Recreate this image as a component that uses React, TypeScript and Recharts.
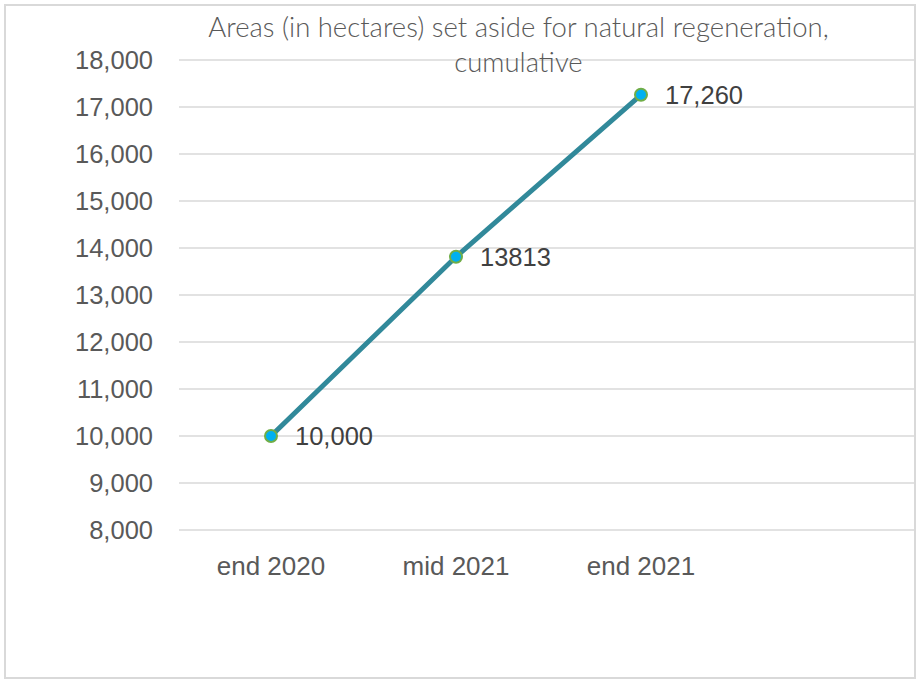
import { LineChart, Line, XAxis, YAxis, CartesianGrid } from 'recharts';

const periods = ['end 2020', 'mid 2021', 'end 2021'];
const hectares = [10000, 13813, 17260];
const valueLabels = ['10,000', '13813', '17,260'];
const yTicks = [8000, 9000, 10000, 11000, 12000, 13000, 14000, 15000, 16000, 17000, 18000];
const titleLines = ['Areas (in hectares) set aside for natural regeneration,', 'cumulative'];

const data = periods.map((period, i) => ({ period, hectares: hectares[i] }));

const AXIS_FONT = '"Liberation Sans", Arial, sans-serif';

// eslint-disable-next-line @typescript-eslint/no-explicit-any
function PointLabel(props: any) {
  const { x, y, index } = props;
  return (
    <text
      x={x + 24}
      y={y}
      dy="0.36em"
      fill="#404040"
      fontSize={25.5}
      fontFamily={AXIS_FONT}
    >
      {valueLabels[index]}
    </text>
  );
}

export default function App() {
  return (
    <div style={{ position: 'absolute', left: 0, top: 0, width: 917, height: 680, background: '#fff' }}>
      <div
        style={{
          position: 'absolute',
          left: 4,
          top: 4,
          width: 908,
          height: 671,
          border: '2px solid #d9d9d9',
        }}
      />
      <LineChart
        width={917}
        height={680}
        data={data}
        margin={{ top: 60, right: 3, bottom: 120, left: 0 }}
      >
        <CartesianGrid vertical={false} stroke="#d9d9d9" strokeWidth={1.5} />
        <XAxis
          dataKey="period"
          axisLine={false}
          tickLine={false}
          tickSize={0}
          tickMargin={27}
          padding={{ left: 92, right: 273 }}
          tick={{ fill: '#595959', fontSize: 26, fontFamily: AXIS_FONT }}
        />
        <YAxis
          width={179}
          domain={[8000, 18000]}
          ticks={yTicks}
          interval={0}
          axisLine={false}
          tickLine={false}
          tickSize={0}
          tickMargin={26}
          tickFormatter={(v: number) => v.toLocaleString('en-US')}
          tick={{ fill: '#595959', fontSize: 25.5, fontFamily: AXIS_FONT }}
        />
        <Line
          dataKey="hectares"
          stroke="#31899a"
          strokeWidth={5}
          dot={{ r: 6, fill: '#00b0f0', stroke: '#70ad47', strokeWidth: 2 }}
          label={PointLabel}
          isAnimationActive={false}
        />
      </LineChart>
      <div
        style={{
          position: 'absolute',
          left: 0,
          top: 9,
          width: 1037,
          textAlign: 'center',
          fontFamily: 'Lato, "Open Sans", sans-serif',
          fontWeight: 300,
          fontSize: 27.5,
          lineHeight: '35px',
          color: '#595959',
          pointerEvents: 'none',
        }}
      >
        {titleLines.map((t) => (
          <div key={t}>{t}</div>
        ))}
      </div>
    </div>
  );
}
